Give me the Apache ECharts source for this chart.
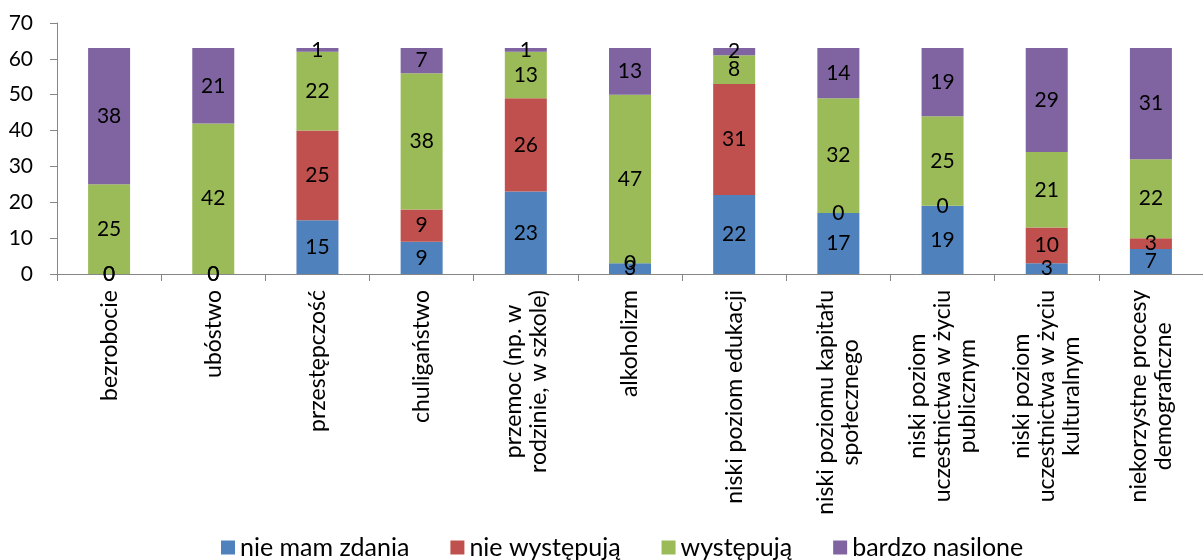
<!DOCTYPE html>
<html>
<head>
<meta charset="utf-8">
<script src="https://cdn.jsdelivr.net/npm/echarts@6/dist/echarts.min.js"></script>
<style>
html,body{margin:0;padding:0;background:#fff;}
#chart{width:1203px;height:560px;}
</style>
</head>
<body>
<div id="chart"></div>
<script>
const categories = [
  'bezrobocie',
  'ubóstwo',
  'przestępczość',
  'chuligaństwo',
  'przemoc (np. w\nrodzinie, w szkole)',
  'alkoholizm',
  'niski poziom edukacji',
  'niski poziomu kapitału\nspołecznego',
  'niski poziom\nuczestnictwa w życiu\npublicznym',
  'niski poziom\nuczestnictwa w życiu\nkulturalnym',
  'niekorzystne procesy\ndemograficzne'
];
const seriesNames = ['nie mam zdania', 'nie występują', 'występują', 'bardzo nasilone'];
const nieMamZdania   = [0, 0, 15, 9, 23, 3, 22, 17, 19, 3, 7];
const nieWystepuja   = [0, 0, 25, 9, 26, 0, 31, 0, 0, 10, 3];
const wystepuja      = [25, 42, 22, 38, 13, 47, 8, 32, 25, 21, 22];
const bardzoNasilone = [38, 21, 1, 7, 1, 13, 2, 14, 19, 29, 31];
const yTicks = [0, 10, 20, 30, 40, 50, 60, 70];

const colors = ['#4F81BD', '#C0504D', '#9BBB59', '#8064A2'];
const FONT = 'Lato';
const values = [nieMamZdania, nieWystepuja, wystepuja, bardzoNasilone];

const chart = echarts.init(document.getElementById('chart'));
chart.setOption({
  animation: false,
  textStyle: { fontFamily: FONT },
  grid: { left: 57, right: -9, top: 23, bottom: 286, containLabel: false },
  legend: {
    top: 530,
    left: 216,
    icon: 'rect',
    itemWidth: 14,
    itemHeight: 14,
    itemGap: 41,
    textStyle: { fontFamily: FONT, fontSize: 25, color: '#000' },
    data: seriesNames
  },
  xAxis: {
    type: 'category',
    data: categories,
    axisLine: { lineStyle: { color: '#868686', width: 1 } },
    axisTick: { show: true, length: 7, lineStyle: { color: '#868686' } },
    axisLabel: {
      interval: 0,
      rotate: 90,
      margin: 16,
      color: '#000',
      fontFamily: FONT,
      fontSize: 23,
      lineHeight: 25,
      formatter: function (v) {
        return v.split('\n').map(function (l) { return '{c|' + l + '}'; }).join('\n');
      },
      rich: { c: { align: 'center', fontFamily: FONT, fontSize: 23, lineHeight: 25, color: '#000' } }
    }
  },
  yAxis: {
    type: 'value',
    min: yTicks[0],
    max: yTicks[yTicks.length - 1],
    interval: yTicks[1] - yTicks[0],
    splitLine: { show: false },
    axisLine: { show: true, lineStyle: { color: '#868686', width: 1 } },
    axisTick: { show: true, length: 7, lineStyle: { color: '#868686' } },
    axisLabel: { margin: 24, color: '#000', fontFamily: FONT, fontSize: 21 }
  },
  series: seriesNames.map(function (name, i) {
    return {
      name: name,
      type: 'bar',
      stack: 'total',
      barWidth: 42,
      data: values[i],
      itemStyle: { color: colors[i] },
      label: {
        show: true,
        position: 'inside',
        color: '#000',
        fontFamily: FONT,
        fontSize: 21
      }
    };
  })
});
</script>
</body>
</html>
